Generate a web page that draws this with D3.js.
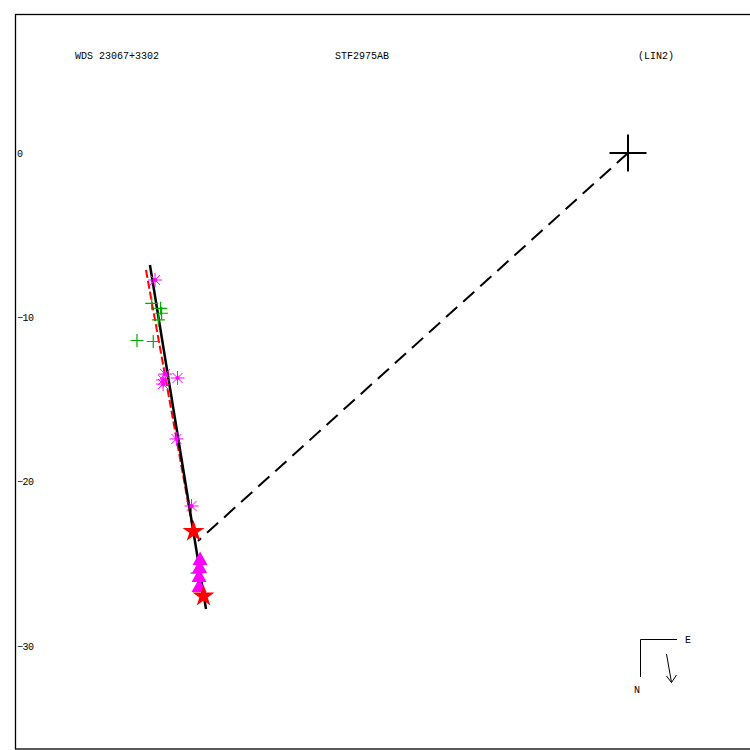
<!DOCTYPE html>
<html><head><meta charset="utf-8">
<script src="https://cdn.jsdelivr.net/npm/d3@7"></script>
<style>body{margin:0;background:#fff}svg{display:block}text{font-family:"Liberation Mono","DejaVu Sans Mono",monospace;font-size:10px;fill:#000}</style>
</head><body><svg id="c" width="750" height="750"></svg>
<script>
const titles = ["WDS 23067+3302", "STF2975AB", "(LIN2)"];
const yTicks = [0, -10, -20, -30];
const asterisks = [[-28.78,-7.73],[-28.17,-13.45],[-27.41,-13.69],[-28.29,-13.81],[-28.29,-14.06],[-27.48,-17.40],[-26.56,-21.48]];
const crosses = [[-28.98,-9.15],[-28.44,-9.45],[-28.38,-9.75],[-28.58,-10.16],[-29.88,-11.41],[-28.89,-11.47],[-26.23,-25.56]];
const stars = [[-26.44,-23.03],[-25.83,-26.96]];
const triangles = [[-26.04,-24.71],[-26.07,-25.19],[-26.10,-25.74],[-26.10,-26.35]];
const orbitLine = [[-29.09,-6.82],[-25.68,-27.75]];
const fitLine = [[-29.21,-7.12],[-26.35,-22.94]];
const connector = [[0,0],[-26.17,-23.61]];
const primary = [0,0];

const svg = d3.select("#c");
const x = d3.scaleLinear().domain([-30,0]).range([135,628]);
const y = d3.scaleLinear().domain([0,-30]).range([153,646]);

svg.append("rect").attr("x",15.5).attr("y",14.5).attr("width",740).attr("height",734.5)
  .attr("fill","none").attr("stroke","#000").attr("stroke-width",1.3);

const tx = [75, 335, 638];
titles.forEach((t,i)=>svg.append("text").attr("x",tx[i]).attr("y",59).text(t));
yTicks.forEach(v=>svg.append("text").attr("x",17).attr("y",y(v)+3.5).text(v===0?"0":"\u2212"+Math.abs(v)).style("letter-spacing","-0.5px"));

const line = d3.line().x(d=>x(d[0])).y(d=>y(d[1]));
svg.append("path").attr("d",line(connector)).attr("stroke","#000").attr("stroke-width",2).attr("fill","none").attr("stroke-dasharray","15,8");
svg.append("path").attr("d",line(fitLine)).attr("stroke","#f00").attr("stroke-width",2).attr("fill","none").attr("stroke-dasharray","8,3").attr("transform","translate(-2,0)");
svg.append("path").attr("d",line(orbitLine)).attr("stroke","#000").attr("stroke-width",2.5).attr("fill","none");

// primary cross
const P = [x(primary[0]), y(primary[1])];
svg.append("path").attr("d",`M${P[0]-18.5},${P[1]}H${P[0]+18.5}M${P[0]},${P[1]-18.5}V${P[1]+18.5}`).attr("stroke","#000").attr("stroke-width",2);

// green crosses
crosses.forEach(d=>{const cx=x(d[0]),cy=y(d[1]);
  svg.append("path").attr("d",`M${cx-6.5},${cy}H${cx+6.5}M${cx},${cy-6.5}V${cy+6.5}`).attr("stroke","#0a0").attr("stroke-width",1.2);});

// asterisks
asterisks.forEach(d=>{const cx=x(d[0]),cy=y(d[1]);const r=7,q=5;
  svg.append("path").attr("d",`M${cx-r},${cy}H${cx+r}M${cx},${cy-r}V${cy+r}M${cx-q},${cy-q}L${cx+q},${cy+q}M${cx-q},${cy+q}L${cx+q},${cy-q}`).attr("stroke","#f0f").attr("stroke-width",1);
  svg.append("circle").attr("cx",cx).attr("cy",cy).attr("r",2).attr("fill","#f0f");});

// triangles
triangles.forEach(d=>{const cx=x(d[0]),cy=y(d[1]);
  svg.append("path").attr("d",`M${cx},${cy-7.5}L${cx+7.5},${cy+6}L${cx-7.5},${cy+6}Z`).attr("fill","#f0f");});

// stars
const starSym = d3.symbol().type(d3.symbolStar).size(150);
stars.forEach(d=>svg.append("path").attr("d",starSym()).attr("transform",`translate(${x(d[0])},${y(d[1])})`).attr("fill","#f00"));

// compass
svg.append("path").attr("d","M640.5,677V639.5H677").attr("stroke","#000").attr("fill","none").attr("stroke-width",1);
svg.append("text").attr("x",685).attr("y",643).text("E");
svg.append("text").attr("x",634).attr("y",693).text("N");
svg.append("path").attr("d","M666.5,654L671.5,682.5M666.5,676L671.5,682.5L676.5,675").attr("stroke","#000").attr("fill","none").attr("stroke-width",1);
</script></body></html>
